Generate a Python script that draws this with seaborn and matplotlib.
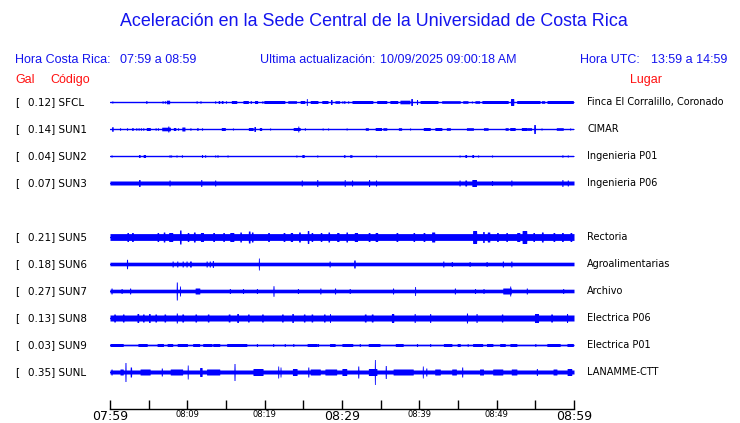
import numpy as np
import pandas as pd
import matplotlib
matplotlib.use("Agg")
import matplotlib.pyplot as plt
import seaborn as sns

# estaciones (de arriba hacia abajo)
codes = ["SFCL", "SUN1", "SUN2", "SUN3", "SUN5", "SUN6", "SUN7", "SUN8", "SUN9", "SUNL"]
gal = ["0.12", "0.14", "0.04", "0.07", "0.21", "0.18", "0.27", "0.13", "0.03", "0.35"]
places = ["Finca El Corralillo, Coronado", "CIMAR", "Ingenieria P01", "Ingenieria P06",
          "Rectoria", "Agroalimentarias", "Archivo", "Electrica P06", "Electrica P01", "LANAMME-CTT"]
rows = [0, 1, 2, 3, 5, 6, 7, 8, 9, 10]

# amplitud de fondo de cada traza
base_amp = [0.5, 0.5, 0.5, 2.0, 3.4, 1.8, 1.8, 3.0, 0.7, 2.0]

# rafagas: (minuto inicio, minuto fin, amplitud)
bursts = {
    "SFCL": [(0.3, 0.3, 1), (4.7, 4.7, 1.5), (6.8, 6.8, 1.2), (7.1, 7.1, 1.2), (7.3, 7.7, 1.8),
             (11.2, 11.2, 1.2), (11.7, 11.7, 1.2), (13.6, 13.6, 1.2), (14.0, 14.2, 1.5), (14.4, 14.6, 1.5),
             (15.0, 15.0, 1.2), (15.7, 16.4, 1.5), (17.2, 17.9, 1.5), (18.2, 18.2, 1.5), (18.7, 19.1, 1.5),
             (19.7, 19.7, 1.2), (19.9, 22.6, 1.5), (23.0, 24.1, 1.3), (24.6, 25.2, 1.5), (25.4, 25.5, 3.5),
             (25.9, 26.9, 1.5), (27.4, 28.2, 1.5), (28.5, 28.7, 2.5), (29.1, 29.7, 1.3), (30.0, 30.1, 1.3),
             (30.3, 30.3, 1.5), (30.8, 30.8, 1.2), (31.3, 34.0, 1.5), (34.5, 35.8, 1.5), (36.2, 37.2, 1.5),
             (37.5, 38.8, 1.8), (38.9, 39.1, 3.5), (39.7, 39.7, 2.5), (40.1, 42.4, 1.5), (42.9, 45.3, 1.3),
             (45.6, 46.3, 1.3), (46.8, 46.8, 1.0), (47.2, 47.8, 1.3), (48.1, 51.5, 1.5), (51.8, 52.2, 3.5),
             (52.6, 55.6, 1.5), (55.8, 56.2, 1.3), (56.5, 59.9, 1.5)],
    "SUN1": [(0.2, 0.4, 2.3), (1.3, 1.3, 1.2), (2.2, 2.2, 1.2), (2.8, 3.0, 1.3), (3.4, 3.4, 1.2),
             (3.7, 3.7, 1.2), (4.0, 4.0, 1.2), (4.3, 4.3, 1.2), (4.7, 5.2, 1.5), (5.9, 5.9, 1.2),
             (6.2, 6.2, 1.2), (6.7, 7.8, 1.8), (7.5, 7.6, 3.0), (8.2, 8.5, 1.5), (8.8, 8.8, 1.2),
             (9.3, 9.7, 2.0), (10.4, 10.4, 1.2), (11.2, 11.4, 1.2), (11.9, 11.9, 1.2), (14.4, 14.9, 1.5),
             (15.9, 15.9, 1.0), (17.9, 18.5, 1.5), (18.6, 18.8, 2.5), (19.3, 19.6, 1.5), (20.7, 20.7, 1.0),
             (23.7, 24.6, 1.5), (24.3, 24.4, 3.0), (25.2, 25.2, 1.2), (27.5, 27.5, 1.0), (28.2, 28.2, 1.0),
             (30.6, 30.6, 1.0), (33.0, 33.4, 1.3), (34.3, 35.1, 1.5), (35.3, 35.8, 1.3), (37.3, 37.7, 1.3),
             (38.8, 38.8, 1.0), (40.5, 41.4, 1.5), (42.0, 42.9, 1.5), (43.5, 44.0, 1.3), (46.1, 47.0, 1.3),
             (48.3, 48.9, 1.3), (51.1, 51.5, 1.3), (51.7, 52.4, 1.5), (53.2, 53.9, 1.5), (53.9, 54.5, 1.3),
             (54.8, 55.0, 4.5), (55.8, 55.8, 1.0), (57.7, 58.6, 1.3), (59.5, 59.5, 1.0)],
    "SUN2": [(0.2, 0.2, 1.0), (3.7, 3.9, 1.5), (4.3, 4.6, 1.5), (7.7, 7.7, 1.2), (7.9, 7.9, 1.0),
             (8.6, 8.6, 1.0), (9.3, 9.3, 1.2), (11.9, 11.9, 1.5), (12.3, 12.3, 1.2), (13.6, 13.6, 1.0),
             (13.9, 13.9, 1.2), (15.2, 15.2, 1.0), (24.1, 24.1, 1.0), (24.8, 25.1, 1.5), (26.8, 26.8, 1.0),
             (30.2, 30.4, 1.3), (31.0, 31.3, 1.3), (34.4, 34.4, 1.0), (45.2, 45.2, 1.0), (45.9, 46.1, 1.5),
             (46.8, 47.0, 1.5), (47.6, 47.6, 1.0), (49.4, 49.4, 1.0), (58.5, 58.5, 1.2), (59.2, 59.2, 1.0)],
    "SUN3": [(3.7, 3.9, 3.5), (7.7, 7.7, 3.0), (11.8, 11.8, 3.5), (13.6, 13.6, 3.0), (24.8, 24.8, 3.0),
             (26.8, 26.8, 3.5), (30.3, 30.4, 3.5), (31.3, 31.3, 3.0), (33.5, 33.5, 3.5), (34.4, 34.4, 3.0),
             (45.2, 45.2, 3.0), (45.9, 46.1, 3.0), (46.8, 47.4, 3.5), (49.4, 49.4, 2.5), (51.9, 51.9, 3.0),
             (58.5, 58.5, 3.5), (59.2, 59.2, 3.0)],
    "SUN5": [(2.2, 2.4, 4.5), (2.8, 3.0, 4.5), (6.1, 6.3, 4.5), (6.9, 7.1, 5.0), (7.6, 8.1, 4.5),
             (9.0, 9.2, 7.0), (10.0, 10.2, 4.5), (10.8, 11.0, 5.0), (11.7, 12.1, 4.5), (13.3, 13.5, 4.5),
             (14.6, 14.8, 4.5), (15.5, 16.0, 4.5), (16.8, 17.0, 5.0), (17.9, 18.1, 6.0), (18.3, 18.5, 5.0),
             (20.4, 20.6, 4.5), (22.4, 22.6, 4.5), (23.3, 23.6, 4.5), (24.4, 24.6, 5.0), (25.5, 25.7, 6.5),
             (26.0, 26.2, 4.5), (27.2, 27.4, 4.5), (28.2, 28.4, 5.0), (29.3, 29.6, 4.5), (30.5, 30.7, 5.0),
             (31.6, 32.0, 4.5), (33.4, 33.6, 4.5), (34.3, 34.6, 4.5), (37.0, 37.2, 4.5), (39.2, 39.4, 4.5),
             (40.5, 40.7, 4.5), (41.6, 42.0, 5.0), (46.9, 47.4, 6.5), (48.2, 48.4, 5.5), (48.8, 49.1, 5.0),
             (50.0, 50.2, 4.5), (51.2, 51.4, 4.5), (52.6, 53.0, 4.5), (53.3, 53.9, 6.5), (54.7, 54.9, 4.5),
             (55.8, 56.0, 5.0), (57.3, 57.5, 4.5), (58.4, 58.6, 4.5), (59.5, 59.7, 4.5)],
    "SUN6": [(2.2, 2.2, 4.7), (8.1, 8.1, 3.0), (8.7, 8.7, 3.0), (9.4, 9.4, 3.0), (9.9, 9.9, 3.0),
             (10.3, 10.5, 3.0), (12.5, 12.5, 3.0), (12.9, 12.9, 3.0), (13.3, 13.3, 3.5), (19.2, 19.3, 6.0),
             (28.4, 28.4, 3.0), (31.5, 31.7, 4.0), (43.1, 43.1, 3.0), (44.2, 44.2, 2.5), (46.5, 46.5, 2.5),
             (48.7, 48.7, 2.5), (50.8, 50.8, 3.0), (51.9, 51.9, 3.0)],
    "SUN7": [(0.2, 0.2, 3.0), (1.5, 1.5, 2.5), (2.6, 2.6, 3.0), (8.6, 8.7, 9.0), (9.0, 9.1, 5.0),
             (11.0, 11.6, 3.0), (15.5, 15.5, 2.5), (17.2, 17.2, 2.5), (19.0, 19.0, 2.5), (21.1, 21.2, 5.3),
             (24.3, 24.3, 2.5), (27.2, 27.2, 3.0), (29.1, 29.1, 3.0), (31.0, 31.0, 2.5), (36.6, 36.6, 3.0),
             (39.4, 39.5, 4.5), (44.6, 44.6, 3.0), (47.2, 47.2, 2.5), (48.3, 48.3, 2.5), (50.8, 51.9, 3.0),
             (51.7, 51.8, 5.0), (53.9, 53.9, 3.0), (58.6, 58.6, 2.5)],
    "SUN8": [(0.5, 0.7, 4.0), (1.6, 1.8, 4.0), (3.5, 3.7, 4.5), (4.2, 4.4, 4.0), (5.0, 5.2, 4.5),
             (5.8, 6.0, 4.0), (7.0, 7.2, 4.0), (8.6, 8.7, 5.0), (9.3, 9.5, 4.0), (11.0, 11.2, 4.0),
             (12.6, 12.8, 4.0), (15.3, 15.5, 4.0), (16.4, 16.6, 4.5), (17.8, 18.0, 4.0), (19.6, 19.8, 4.0),
             (22.2, 22.4, 4.0), (23.5, 23.7, 4.5), (25.0, 25.2, 4.0), (26.0, 26.2, 4.0), (27.6, 27.8, 4.0),
             (28.4, 28.5, 4.5), (32.9, 33.1, 4.0), (33.8, 34.0, 4.0), (36.4, 36.7, 4.5), (39.4, 39.4, 4.5),
             (41.4, 41.4, 4.5), (46.1, 46.2, 5.0), (47.4, 47.4, 4.5), (50.6, 50.8, 4.0), (54.9, 55.4, 4.5),
             (57.0, 57.2, 4.0), (59.1, 59.1, 4.5)],
    "SUN9": [(0.0, 1.7, 1.5), (3.6, 4.8, 1.5), (6.1, 6.9, 1.5), (7.4, 8.1, 1.5), (8.7, 10.0, 1.5),
             (10.7, 11.6, 1.5), (12.0, 13.2, 1.5), (13.3, 14.2, 1.5), (15.1, 17.7, 1.5), (19.0, 19.0, 1.5),
             (21.1, 21.1, 1.5), (22.6, 22.6, 1.5), (23.7, 23.7, 1.5), (25.5, 26.8, 1.5), (26.9, 26.9, 1.5),
             (28.4, 29.1, 1.5), (30.0, 31.4, 1.5), (32.3, 32.3, 1.5), (33.4, 34.9, 1.5), (36.9, 37.9, 1.5),
             (39.7, 39.7, 1.5), (41.4, 41.4, 1.5), (43.1, 44.2, 1.5), (44.9, 45.3, 1.5), (46.2, 46.3, 1.5),
             (46.9, 48.2, 1.5), (48.7, 49.5, 1.5), (50.4, 51.1, 1.5), (51.7, 52.6, 1.5), (55.0, 55.0, 1.5),
             (56.5, 58.2, 1.5), (59.1, 59.9, 1.5)],
    "SUNL": [(0.2, 0.2, 3.0), (1.3, 1.7, 3.0), (2.0, 2.0, 9.5), (2.6, 2.8, 5.0), (3.9, 5.2, 3.0),
             (6.7, 6.7, 4.0), (7.8, 9.4, 3.0), (10.0, 10.1, 7.0), (11.6, 11.9, 4.5), (12.5, 14.2, 3.0),
             (16.1, 16.1, 8.5), (18.5, 19.8, 3.5), (21.7, 21.8, 6.0), (22.0, 22.1, 5.0), (23.6, 24.2, 3.5),
             (25.6, 25.7, 5.0), (25.9, 27.2, 3.0), (27.8, 29.3, 3.0), (30.0, 30.6, 3.5), (32.1, 32.1, 6.0),
             (33.4, 34.5, 3.5), (34.2, 34.3, 12.5), (35.6, 35.7, 6.5), (36.6, 39.2, 3.0), (40.4, 40.5, 6.0),
             (40.9, 40.9, 4.0), (42.0, 42.7, 3.0), (44.2, 44.8, 3.0), (45.5, 45.6, 5.0), (47.8, 48.3, 3.0),
             (49.5, 50.8, 3.0), (51.9, 52.6, 3.0), (55.2, 55.2, 3.5), (57.3, 57.8, 3.0), (59.1, 59.7, 3.5)],
}

tick_minutes = list(range(0, 61, 5))
tick_labels = ["07:59", "", "08:09", "", "08:19", "", "08:29", "", "08:39", "", "08:49", "", "08:59"]
big_labels = ["07:59", "08:29", "08:59"]

BLUE = "#0000ff"
TXT_BLUE = "#1414ee"
RED = "#ff1010"
ROW_AMP = 27.0  # unidades de amplitud por fila

sns.set_style("white")
plt.rcParams["font.family"] = ["DejaVu Sans"]

W, H = 740, 423
fig = plt.figure(figsize=(W / 100, H / 100), dpi=100)


def fx(x):
    return x / W


def fy(y):
    return 1 - y / H


ax = fig.add_axes([fx(110), fy(409), 464 / W, (409 - 88) / H])
ax.set_xlim(0, 60)
ax.set_ylim((409 - 102) / 27, (88 - 102) / 27)

t = np.linspace(0, 60, 3001)
for code, k, base in zip(codes, rows, base_amp):
    env = np.full_like(t, base)
    for s, e, a in bursts[code]:
        c = (s + e) / 2
        half = max((e - s) / 2, 0.07)
        m = np.abs(t - c) <= half
        env[m] = np.maximum(env[m], a)
    ax.fill_between(t, k - env / ROW_AMP, k + env / ROW_AMP, color=BLUE, lw=0, antialiased=False)
    df = pd.DataFrame({"t": [0, 60], "y": [k, k]})
    sns.lineplot(data=df, x="t", y="y", color=BLUE, lw=1, ax=ax)

sns.despine(ax=ax, left=True, top=True, right=True)
ax.spines["bottom"].set_color("black")
ax.spines["bottom"].set_linewidth(1)
ax.set_yticks([])
ax.set_xticks(tick_minutes)
ax.set_xticklabels(tick_labels)
ax.tick_params(axis="x", bottom=True, direction="in", length=6.5, width=1, color="black",
               pad=1, labelcolor="black")
for lab in ax.get_xticklabels():
    lab.set_fontsize(9 if lab.get_text() in big_labels else 6)
ax.set_xlabel("")
ax.set_ylabel("")

# encabezados
hf = "Liberation Sans"
fig.text(fx(374), fy(22), "Aceleración en la Sede Central de la Universidad de Costa Rica",
         ha="center", va="center", color=TXT_BLUE, fontsize=12.9, family=hf)
fig.text(fx(15), fy(60), "Hora Costa Rica:", ha="left", va="center", color=TXT_BLUE, fontsize=9, family=hf)
fig.text(fx(120), fy(60), "07:59 a 08:59", ha="left", va="center", color=TXT_BLUE, fontsize=9, family=hf)
fig.text(fx(260), fy(60), "Ultima actualización:", ha="left", va="center", color=TXT_BLUE, fontsize=9, family=hf)
fig.text(fx(380), fy(60), "10/09/2025 09:00:18 AM", ha="left", va="center", color=TXT_BLUE, fontsize=9, family=hf)
fig.text(fx(580), fy(60), "Hora UTC:", ha="left", va="center", color=TXT_BLUE, fontsize=9, family=hf)
fig.text(fx(651), fy(60), "13:59 a 14:59", ha="left", va="center", color=TXT_BLUE, fontsize=9, family=hf)
fig.text(fx(15), fy(80), "Gal", ha="left", va="center", color=RED, fontsize=9, family=hf)
fig.text(fx(50), fy(80), "Código", ha="left", va="center", color=RED, fontsize=9, family=hf)
fig.text(fx(630), fy(80), "Lugar", ha="left", va="center", color=RED, fontsize=9, family=hf)

# etiquetas de cada traza
for code, g, place, k in zip(codes, gal, places, rows):
    y = 102 + 27 * k
    fig.text(fx(15), fy(y), "[", ha="left", va="center", fontsize=7.5, color="black")
    fig.text(fx(27.5), fy(y), f"{g}] {code}", ha="left", va="center", fontsize=7.5, color="black")
    fig.text(fx(587), fy(y), place, ha="left", va="center", fontsize=7.0, color="black")

fig.savefig("out.png", dpi=100)
